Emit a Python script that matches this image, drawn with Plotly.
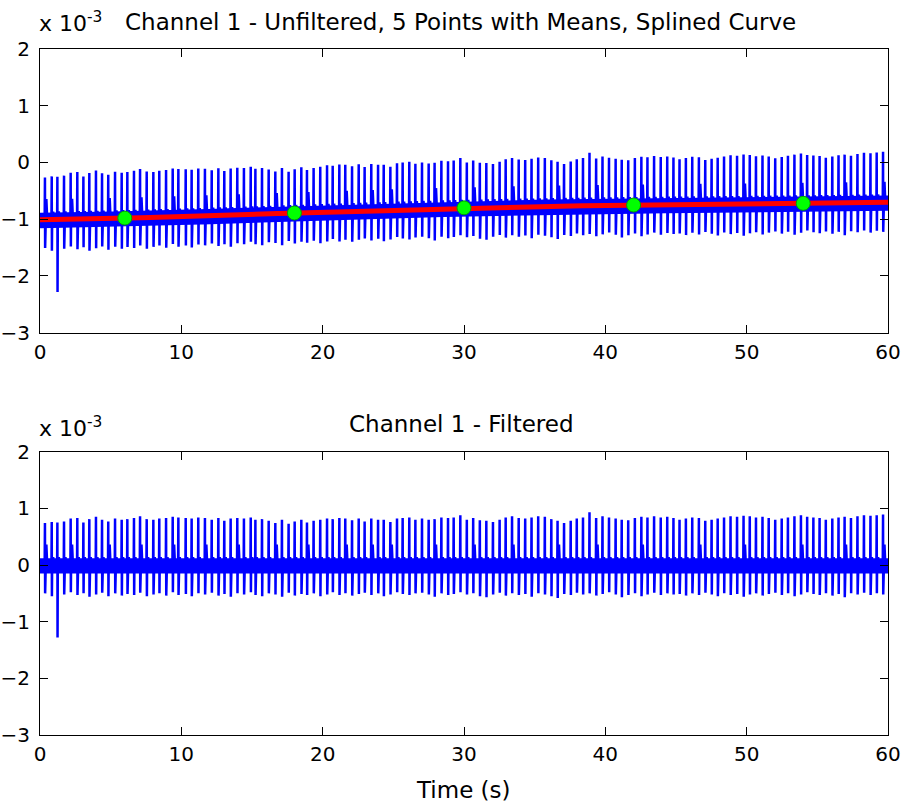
import numpy as np
import plotly.graph_objects as go

# ---------------- data (units of 1e-3) ----------------
beat_times = [
    0.35, 0.83, 1.23, 1.70, 2.17, 2.64, 3.07, 3.49, 3.96, 4.39, 4.83, 5.31, 5.78, 6.18, 6.65, 7.08, 7.55,
    8.02, 8.44, 8.92, 9.39, 9.79, 10.31, 10.73, 11.20, 11.67, 12.15, 12.62, 13.04, 13.49, 13.96, 14.43, 14.91,
    15.24, 15.71, 16.18, 16.65, 17.12, 17.59, 18.02, 18.49, 18.89, 19.36, 19.83, 20.31, 20.71, 21.18, 21.60,
    22.08, 22.55, 22.97, 23.44, 23.92, 24.32, 24.79, 25.26, 25.66, 26.13, 26.56, 27.03, 27.50, 27.92, 28.40,
    28.87, 29.27, 29.74,
    30.20, 30.65, 31.12, 31.58, 32.05, 32.52, 32.95, 33.40, 33.87, 34.33, 34.78, 35.25, 35.72, 36.18, 36.62,
    37.08, 37.55, 37.98, 38.42, 38.88, 39.35, 39.80, 40.26, 40.73, 41.16, 41.62, 42.09, 42.55, 42.98, 43.45,
    43.92, 44.38, 44.82,
    45.25, 45.70, 46.15, 46.62, 47.07, 47.52, 47.95, 48.40, 48.86, 49.32, 49.78, 50.22, 50.66, 51.12, 51.56,
    52.02, 52.48, 52.92, 53.38, 53.84, 54.28, 54.72, 55.16, 55.60, 56.06, 56.50, 56.93, 57.38, 57.84, 58.30,
    58.76, 59.20, 59.65,
]
# filtered R-peak heights
r_peaks = [
    0.74, 0.76, 0.75, 0.77, 0.82, 0.83, 0.75, 0.81, 0.85, 0.80, 0.77, 0.82, 0.80, 0.81, 0.83, 0.86, 0.81,
    0.80, 0.82, 0.83, 0.85, 0.84, 0.83, 0.82, 0.84, 0.83, 0.80, 0.83, 0.78, 0.82, 0.83, 0.82, 0.84,
    0.80, 0.81, 0.78, 0.74, 0.80, 0.73, 0.77, 0.80, 0.75, 0.78, 0.80, 0.82, 0.81, 0.83, 0.82, 0.79, 0.82,
    0.77, 0.82, 0.80, 0.80, 0.76, 0.82, 0.83, 0.84, 0.80, 0.82, 0.80, 0.81, 0.84, 0.83, 0.84, 0.88,
    0.80, 0.83, 0.79, 0.78, 0.76, 0.80, 0.84, 0.86, 0.83, 0.82, 0.84, 0.86, 0.85, 0.81, 0.78, 0.74, 0.78,
    0.82, 0.84, 0.93, 0.83, 0.86, 0.84, 0.82, 0.80, 0.79, 0.83, 0.85, 0.84, 0.86, 0.84, 0.85, 0.83,
    0.80, 0.82, 0.84, 0.83, 0.78, 0.80, 0.82, 0.84, 0.86, 0.85, 0.87, 0.86, 0.84, 0.85, 0.83, 0.80, 0.82,
    0.84, 0.86, 0.88, 0.85, 0.84, 0.83, 0.80, 0.82, 0.84, 0.85, 0.83, 0.86, 0.88, 0.87, 0.88, 0.89,
]
# filtered S-trough depths
s_troughs = [
    -0.50, -0.55, -1.28, -0.52, -0.48, -0.53, -0.50, -0.56, -0.52, -0.49, -0.55, -0.50, -0.54, -0.51, -0.53, -0.49, -0.55,
    -0.52, -0.50, -0.54, -0.48, -0.53, -0.51, -0.55, -0.50, -0.52, -0.49, -0.54, -0.51, -0.56, -0.50, -0.52, -0.48,
    -0.53, -0.55, -0.50, -0.52, -0.56, -0.49, -0.54, -0.51, -0.53, -0.50, -0.55, -0.52, -0.48, -0.53, -0.50,
    -0.54, -0.51, -0.49, -0.53, -0.50, -0.55, -0.52, -0.48, -0.51, -0.53, -0.50, -0.49, -0.52, -0.56, -0.50,
    -0.53, -0.51, -0.48,
    -0.52, -0.50, -0.55, -0.57, -0.52, -0.49, -0.54, -0.50, -0.53, -0.51, -0.56, -0.50, -0.52, -0.55, -0.58,
    -0.51, -0.53, -0.49, -0.52, -0.50, -0.54, -0.51, -0.48, -0.52, -0.57, -0.53, -0.50, -0.55, -0.52, -0.49,
    -0.53, -0.50, -0.52,
    -0.51, -0.54, -0.50, -0.53, -0.49, -0.52, -0.55, -0.50, -0.53, -0.51, -0.56, -0.52, -0.50, -0.54, -0.51,
    -0.49, -0.53, -0.50, -0.55, -0.52, -0.48, -0.51, -0.53, -0.50, -0.54, -0.51, -0.57, -0.50, -0.52, -0.49,
    -0.53, -0.50, -0.52,
]
t_wave_default = 0.14
t_wave_tall_beats = [0, 4, 10, 15, 20, 25, 30, 36, 41, 47, 51, 54, 61, 67, 73, 80, 86, 93, 102, 109, 118, 125, 131]
t_wave_tall = 0.36
band_upper = 0.12
band_lower = -0.15

mean_times = [6, 18, 30, 42, 54]
mean_values = [-0.98, -0.89, -0.80, -0.75, -0.72]

x_ticks = [0, 10, 20, 30, 40, 50, 60]
y_ticks = [-3, -2, -1, 0, 1, 2]

title_top = "Channel 1 - Unfiltered, 5 Points with Means, Splined Curve"
title_bottom = "Channel 1 - Filtered"
x_label = "Time (s)"

# ---------------- not-a-knot spline through the 5 means ----------------
tm = np.array(mean_times, float)
ym = np.array(mean_values, float)
c0 = tm[2]
a = ym[2]
A = []
rhs = []
for k, side in [(0, 0), (1, 0), (3, 1), (4, 1)]:
    u = tm[k] - c0
    row = [u, u ** 2, u ** 3 if side == 0 else 0.0, u ** 3 if side == 1 else 0.0]
    A.append(row)
    rhs.append(ym[k] - a)
b, c, d1, d2 = np.linalg.solve(np.array(A), np.array(rhs))


def spline(t):
    t = np.asarray(t, float)
    u = t - c0
    d = np.where(u < 0, d1, d2)
    return a + b * u + c * u ** 2 + d * u ** 3


# ---------------- build the traces ----------------
tw = [t_wave_default] * len(beat_times)
for i in t_wave_tall_beats:
    tw[i] = t_wave_tall

offs = [-0.02, 0.0, 0.012, 0.03, 0.06, 0.10, 0.16]
xs, ys = [0.0], [0.0]
for tb, r, s, t in zip(beat_times, r_peaks, s_troughs, tw):
    vals = [0.0, r, s, 0.0, 0.0, t, 0.0]
    for o, v in zip(offs, vals):
        xs.append(tb + o)
        ys.append(v)
xs.append(60.0)
ys.append(0.0)
xs = np.array(xs)
ys = np.array(ys)
ys_raw = ys + spline(xs)

tgrid = np.linspace(0, 60, 601)
sp = spline(tgrid)

fig = go.Figure()
blue = "#0000ff"
LW = 2.5
# top: noise band
fig.add_trace(go.Scatter(
    x=np.concatenate([tgrid, tgrid[::-1]]),
    y=np.concatenate([sp + band_upper, (sp + band_lower)[::-1]]),
    fill="toself", fillcolor=blue, line=dict(width=0), mode="lines",
    xaxis="x", yaxis="y", hoverinfo="skip", showlegend=False))
fig.add_trace(go.Scatter(x=xs, y=ys_raw, mode="lines", line=dict(color=blue, width=LW),
                         xaxis="x", yaxis="y", showlegend=False))
fig.add_trace(go.Scatter(x=tgrid, y=sp, mode="lines", line=dict(color="#ff0000", width=5),
                         xaxis="x", yaxis="y", showlegend=False))
fig.add_trace(go.Scatter(x=mean_times, y=mean_values, mode="markers",
                         marker=dict(size=14, color="#00ff00", line=dict(color="#00a000", width=1)),
                         xaxis="x", yaxis="y", showlegend=False))
# bottom
fig.add_trace(go.Scatter(
    x=[0, 60, 60, 0], y=[band_upper, band_upper, band_lower, band_lower],
    fill="toself", fillcolor=blue, line=dict(width=0), mode="lines",
    xaxis="x2", yaxis="y2", hoverinfo="skip", showlegend=False))
fig.add_trace(go.Scatter(x=xs, y=ys, mode="lines", line=dict(color=blue, width=LW),
                         xaxis="x2", yaxis="y2", showlegend=False))

FONT = "DejaVu Sans"
FS_TICK = 20
FS_TEXT = 23
axis_common = dict(showline=True, linecolor="black", linewidth=1, mirror="allticks",
                   ticks="inside", ticklen=8, tickcolor="black", tickwidth=1,
                   showgrid=False, zeroline=False, automargin=False,
                   tickfont=dict(family=FONT, size=FS_TICK, color="black"))

H = 686.0
def py(p):
    return (735.0 - p) / H

fig.update_layout(
    width=904, height=805,
    margin=dict(l=40, r=16, t=49, b=70),
    paper_bgcolor="white", plot_bgcolor="white",
    xaxis=dict(domain=[0, 1], range=[0, 60], tickvals=x_ticks, anchor="y",
               ticklabelstandoff=1, **axis_common),
    yaxis=dict(domain=[py(332.7), 1], range=[-3, 2], tickvals=y_ticks, anchor="x",
               ticklabelstandoff=5, **axis_common),
    xaxis2=dict(domain=[0, 1], range=[0, 60], tickvals=x_ticks, anchor="y2",
                ticklabelstandoff=1, **axis_common),
    yaxis2=dict(domain=[0, py(451.7)], range=[-3, 2], tickvals=y_ticks, anchor="x2",
                ticklabelstandoff=5, **axis_common),
    font=dict(family=FONT, size=FS_TEXT, color="black"),
    annotations=[
        dict(text=title_top, xref="paper", yref="paper", x=(460 - 40) / 848.0, y=py(22), xanchor="center",
             yanchor="middle", showarrow=False, font=dict(family=FONT, size=FS_TEXT)),
        dict(text=title_bottom, xref="paper", yref="paper", x=(461 - 40) / 848.0, y=py(424), xanchor="center",
             yanchor="middle", showarrow=False, font=dict(family=FONT, size=FS_TEXT)),
        dict(text="x 10<sup>-3</sup>", xref="paper", yref="paper", x=-0.004, y=py(38),
             xanchor="left", yanchor="bottom", showarrow=False, font=dict(family=FONT, size=22)),
        dict(text="x 10<sup>-3</sup>", xref="paper", yref="paper", x=-0.004, y=py(443),
             xanchor="left", yanchor="bottom", showarrow=False, font=dict(family=FONT, size=22)),
        dict(text=x_label, xref="paper", yref="paper", x=(463 - 40) / 848.0, y=py(790),
             xanchor="center", yanchor="middle", showarrow=False, font=dict(family=FONT, size=FS_TEXT)),
    ],
)

fig.write_html("out.html")
